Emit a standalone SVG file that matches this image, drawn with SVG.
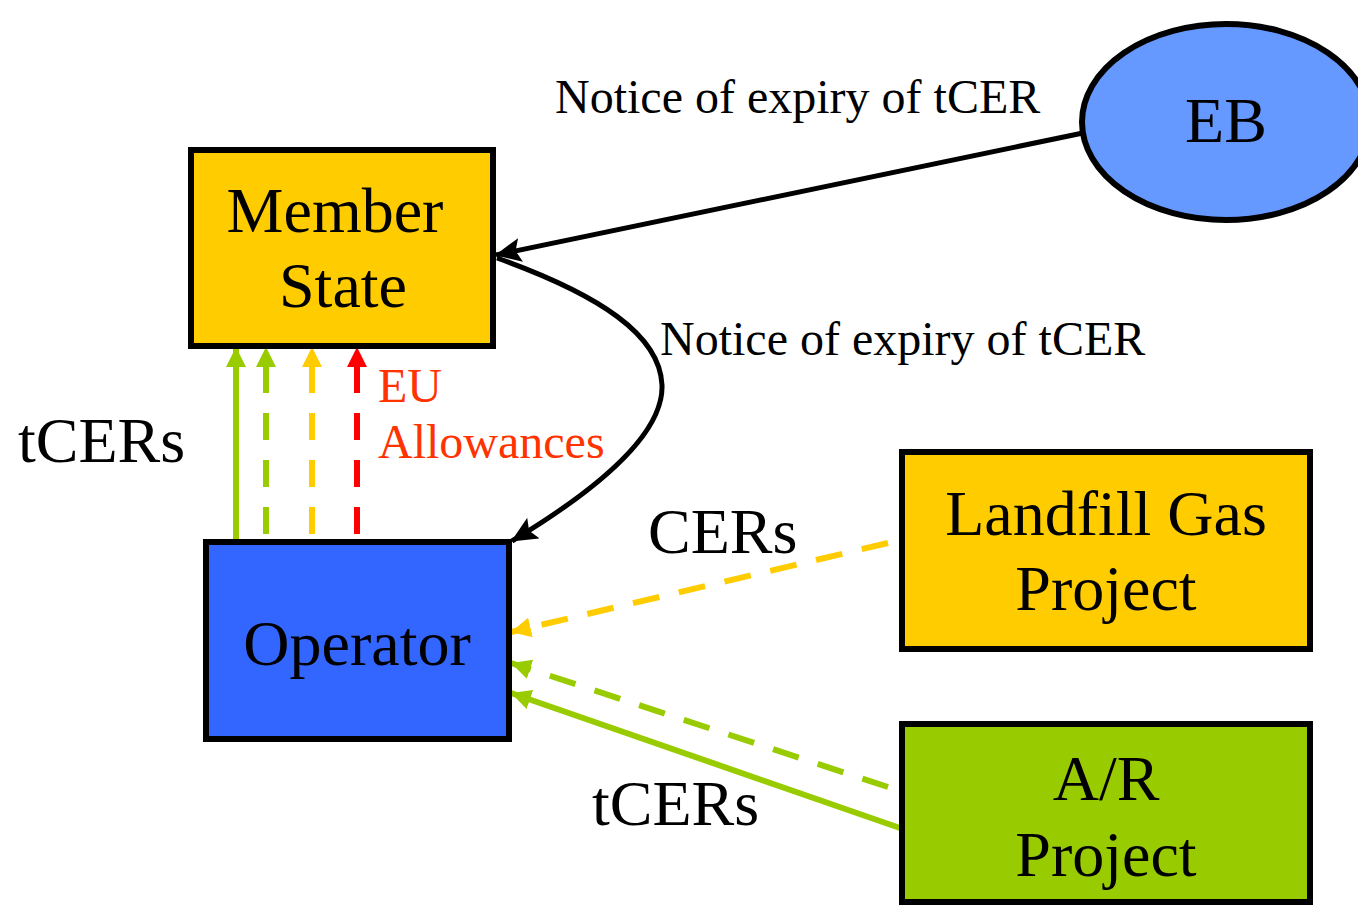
<svg xmlns="http://www.w3.org/2000/svg" width="1358" height="905" viewBox="0 0 1358 905">
<style>
.box{stroke:#000;stroke-width:6}
.t{font-family:"Liberation Serif","Times New Roman",serif;fill:#000}
.big{font-size:64px}
.lbl{font-size:48px}
.red{fill:#FF3300;font-size:48px}
.c{stroke-width:5;fill:none}
.col{stroke-width:6;fill:none}
.d{stroke-dasharray:27 20}
</style>
<defs>
<marker id="ab" markerUnits="userSpaceOnUse" markerWidth="28" markerHeight="24" refX="25" refY="12" orient="auto"><path d="M0,0 L26,12 L0,24 L5,12 Z" fill="#000"/></marker>
<marker id="ag" markerUnits="userSpaceOnUse" markerWidth="24" markerHeight="22" refX="20" refY="10" orient="auto"><path d="M0,0 L20,10 L0,20 Z" fill="#99CC00"/></marker>
<marker id="ay" markerUnits="userSpaceOnUse" markerWidth="24" markerHeight="22" refX="20" refY="10" orient="auto"><path d="M0,0 L20,10 L0,20 Z" fill="#FFCC00"/></marker>
<marker id="ar" markerUnits="userSpaceOnUse" markerWidth="24" markerHeight="22" refX="20" refY="10" orient="auto"><path d="M0,0 L20,10 L0,20 Z" fill="#FF0000"/></marker>
</defs>
<rect width="1358" height="905" fill="#fff"/>
<g id="connectors">
<line x1="1083" y1="133" x2="496" y2="255" stroke="#000" class="c" marker-end="url(#ab)"/>
<path d="M497,258 C600,295 660,335 662,385 C664,440 580,500 512,541" stroke="#000" class="c" marker-end="url(#ab)"/>
<line x1="236" y1="541" x2="236" y2="347" stroke="#99CC00" class="col" marker-end="url(#ag)"/>
<line x1="266" y1="541" x2="266" y2="347" stroke="#99CC00" class="col d" stroke-dashoffset="-7" marker-end="url(#ag)"/>
<line x1="312" y1="541" x2="312" y2="347" stroke="#FFCC00" class="col d" stroke-dashoffset="-7" marker-end="url(#ay)"/>
<line x1="357" y1="541" x2="357" y2="347" stroke="#FF0000" class="col d" stroke-dashoffset="-7" marker-end="url(#ar)"/>
<line x1="888" y1="543" x2="511" y2="632" stroke="#FFCC00" class="col d" marker-end="url(#ay)"/>
<line x1="888" y1="787" x2="511" y2="663" stroke="#99CC00" class="col d" marker-end="url(#ag)"/>
<line x1="900" y1="828" x2="511" y2="693" stroke="#99CC00" class="col" stroke-width="5" marker-end="url(#ag)"/>
</g>
<g id="member-state">
<rect x="191" y="150" width="302" height="196" fill="#FFCC00" class="box"/>
<text class="t big" x="335" y="232" text-anchor="middle">Member</text>
<text class="t big" x="343" y="307" text-anchor="middle">State</text>
</g>
<g id="operator">
<rect x="206" y="542" width="303" height="197" fill="#3366FF" class="box"/>
<text class="t big" x="357" y="665" text-anchor="middle">Operator</text>
</g>
<g id="landfill">
<rect x="902" y="452" width="408" height="197" fill="#FFCC00" class="box"/>
<text class="t big" x="1106" y="535" text-anchor="middle">Landfill Gas</text>
<text class="t big" x="1106" y="610" text-anchor="middle">Project</text>
</g>
<g id="ar-project">
<rect x="902" y="724" width="408" height="178" fill="#99CC00" class="box"/>
<text class="t big" x="1106" y="800" text-anchor="middle">A/R</text>
<text class="t big" x="1106" y="876" text-anchor="middle">Project</text>
</g>
<g id="eb">
<ellipse cx="1226" cy="122" rx="144" ry="98" fill="#6699FF" stroke="#000" stroke-width="6"/>
<text class="t big" x="1226" y="142" text-anchor="middle">EB</text>
</g>
<g id="labels">
<text class="t lbl" x="555" y="113">Notice of expiry of tCER</text>
<text class="t lbl" x="660" y="355">Notice of expiry of tCER</text>
<text class="t big" x="18" y="462">tCERs</text>
<text class="t red" x="378" y="402">EU</text>
<text class="t red" x="378" y="458">Allowances</text>
<text class="t big" x="648" y="553">CERs</text>
<text class="t big" x="592" y="825">tCERs</text>
</g>
</svg>
